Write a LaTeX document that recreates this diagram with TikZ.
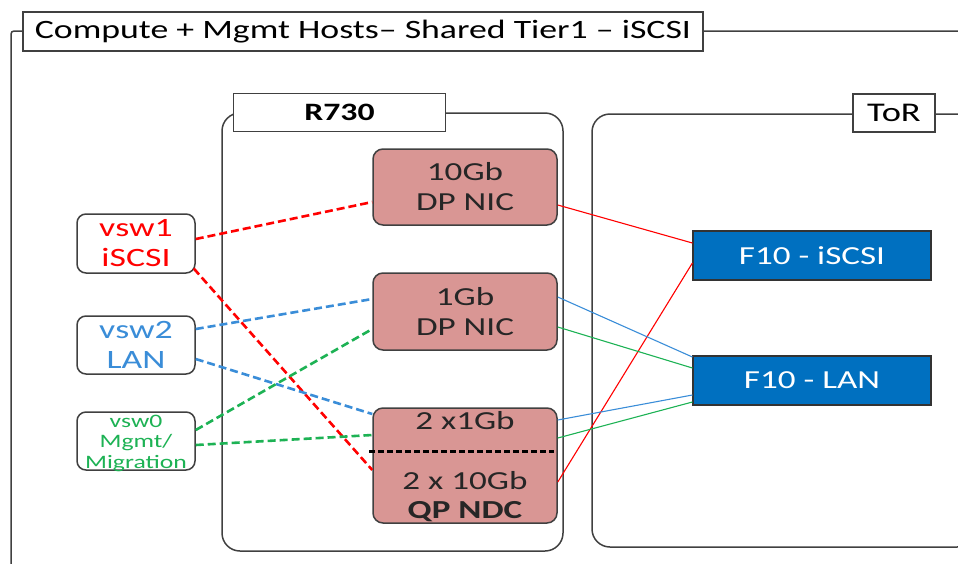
\documentclass[tikz,border=0pt]{standalone}
\usepackage{fontspec}
\setmainfont[FakeStretch=1.35]{Carlito}
\usetikzlibrary{calc}
\definecolor{nicfill}{HTML}{D99694}
\definecolor{torblue}{HTML}{0070C0}
\definecolor{lred}{HTML}{FF0000}
\definecolor{lblue}{HTML}{3A8DD8}
\definecolor{lgreen}{HTML}{1DB254}
\definecolor{edge}{HTML}{404040}
\tikzset{
  frame/.style={draw=edge,line width=1.5pt,rounded corners=18pt},
  labelbox/.style={draw=edge,line width=1.5pt,fill=white,inner sep=0pt,font=\fontsize{26.5}{30}\selectfont},
  nicbox/.style={draw=edge,line width=1.5pt,fill=nicfill,rounded corners=10pt,inner sep=0pt,minimum width=184pt,align=center,font=\fontsize{26}{30}\selectfont,text=black!85},
  vswbox/.style={draw=edge,line width=1.5pt,fill=white,rounded corners=9pt,inner sep=0pt,minimum width=118pt,minimum height=58pt,align=center},
  torbox/.style={draw=black!80,line width=1.2pt,fill=torblue,inner sep=0pt,minimum width=238pt,minimum height=49pt,text=white,font=\fontsize{26}{30}\selectfont},
  qptext/.style={font=\fontsize{26}{30}\selectfont,text=black!85,inner sep=0pt},
  vlink/.style={line width=2.6pt,dash pattern=on 8pt off 4pt},
  plink/.style={line width=1.1pt}
}
\begin{document}
\begin{tikzpicture}[x=1pt,y=-1pt]
\useasboundingbox (0,0) rectangle (958,563);
% outer frame
\draw[draw=edge,line width=1.5pt,rounded corners=3pt] (11,580) -- (11,31) -- (980,31);
\node[labelbox,minimum width=680pt,minimum height=39pt] (title) at (363,31.5) {Compute + Mgmt Hosts– Shared Tier1 – iSCSI};
% R730 frame
\draw[frame] (222,113) rectangle (563,551);
\node[labelbox,minimum width=212pt,minimum height=38pt,font=\fontsize{25}{30}\selectfont\bfseries] (r730) at (339.5,112.5) {R730};
% ToR frame
\draw[frame] (592,114) rectangle (975,547);
\node[labelbox,minimum width=82pt,minimum height=38pt,font=\fontsize{27}{30}\selectfont] (tor) at (894,113) {ToR};
% NICs
\node[nicbox,minimum height=76pt] (nic1) at (465,187) {10Gb\\DP NIC};
\node[nicbox,minimum height=77pt] (nic2) at (465,311.5) {1Gb\\DP NIC};
\node[nicbox,minimum height=115pt] (qp) at (465,465.5) {};
\node[qptext] (qpa) at (465,421) {2 x1Gb};
\node[qptext] (qpb) at (465,481) {2 x 10Gb};
\node[qptext,font=\fontsize{26}{30}\selectfont\bfseries] (qpc) at (465,512) {QP NDC};
\draw[line width=3pt,dash pattern=on 6pt off 3pt] ([yshift=14.5pt,xshift=-3pt]qp.west) -- ([yshift=14.5pt,xshift=-4pt]qp.east);
% vswitches
\node[vswbox,text=lred,font=\fontsize{26.5}{30}\selectfont,minimum height=59pt] (vsw1) at (136,243.5) {vsw1\\iSCSI};
\node[vswbox,text=lblue,font=\fontsize{26.5}{30}\selectfont] (vsw2) at (136,345) {vsw2\\LAN};
\node[vswbox] (vsw0) at (136,441) {};
\node[text=lgreen,font=\fontsize{19}{20.5}\selectfont,align=center] (vsw0t) at (136,443) {vsw0\\Mgmt/\\Migration};
% ToR switches
\node[torbox] (f10i) at (812,255.5) {F10 - iSCSI};
\node[torbox] (f10l) at (812,380.5) {F10 - LAN};
% dashed links
\draw[vlink,lred] ([yshift=4.5pt]vsw1.east) -- ([yshift=-15pt]nic1.west);
\draw[vlink,lred] ([yshift=-25pt,xshift=-2pt]vsw1.east) -- ([yshift=-4.5pt]qp.west);
\draw[vlink,lblue] ([yshift=16pt]vsw2.east) -- ([yshift=12.5pt]nic2.west);
\draw[vlink,lblue] ([yshift=-14pt]vsw2.east) -- ([yshift=51.5pt]qp.west);
\draw[vlink,lgreen] ([yshift=11pt]vsw0.east) -- ([yshift=-17.5pt]nic2.west);
\draw[vlink,lgreen] ([yshift=-4pt]vsw0.east) -- ([yshift=30.5pt]qp.west);
% solid links
\draw[plink,lred] ([yshift=-18pt]nic1.east) -- ([yshift=12.5pt]f10i.west);
\draw[plink,lred] ([yshift=-16.5pt]qp.east) -- ([yshift=-7.5pt]f10i.west);
\draw[plink,lblue] ([yshift=14.5pt]nic2.east) -- ([yshift=23.5pt]f10l.west);
\draw[plink,lgreen] ([yshift=-15.5pt]nic2.east) -- ([yshift=12.5pt]f10l.west);
\draw[plink,lblue] ([yshift=45.5pt]qp.east) -- ([yshift=-14.5pt]f10l.west);
\draw[plink,lgreen] ([yshift=27.5pt]qp.east) -- ([yshift=-21.5pt]f10l.west);
\end{tikzpicture}
\end{document}
